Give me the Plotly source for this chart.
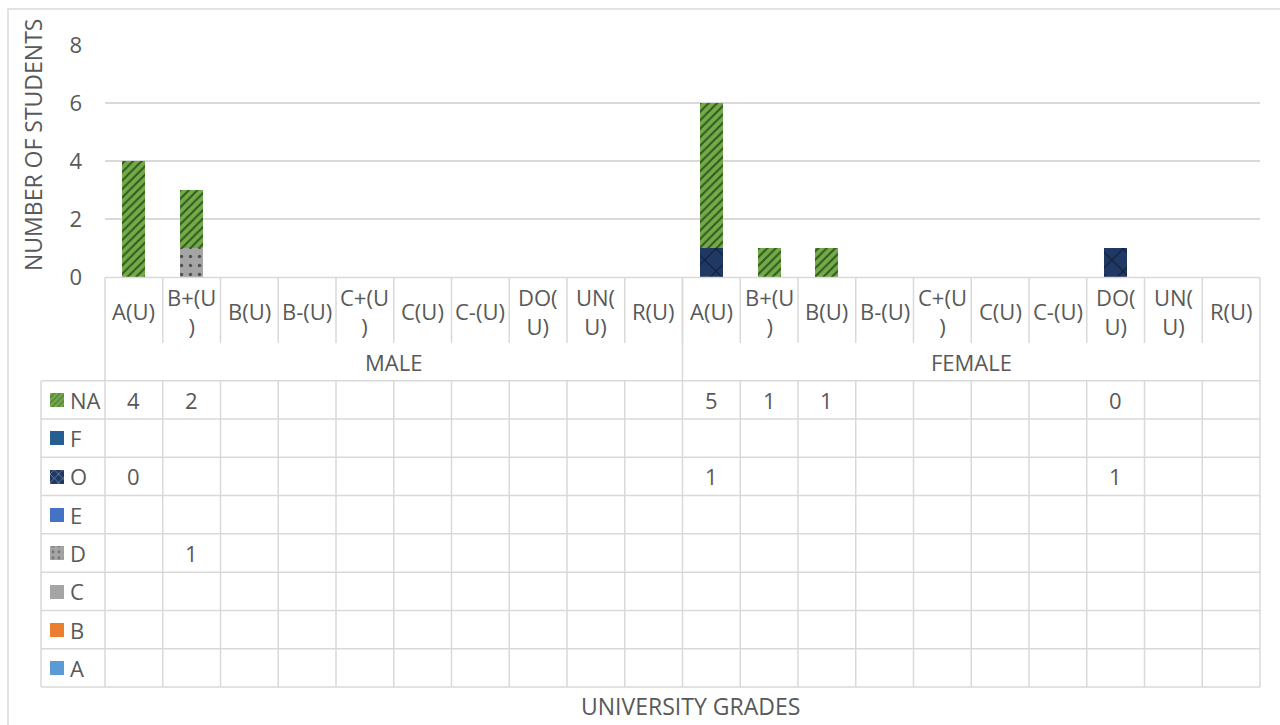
import plotly.graph_objects as go

# ---- data ----
grades = ["A(U)", "B+(U)", "B(U)", "B-(U)", "C+(U)", "C(U)", "C-(U)", "DO(U)", "UN(U)", "R(U)"]
grade_labels = ["A(U)", "B+(U<br>)", "B(U)", "B-(U)", "C+(U<br>)", "C(U)", "C-(U)", "DO(<br>U)", "UN(<br>U)", "R(U)"]
genders = ["MALE", "FEMALE"]

N = None
# one value per grade, MALE first then FEMALE
vals_A = [N, N, N, N, N, N, N, N, N, N,   N, N, N, N, N, N, N, N, N, N]
vals_B = [N, N, N, N, N, N, N, N, N, N,   N, N, N, N, N, N, N, N, N, N]
vals_C = [N, N, N, N, N, N, N, N, N, N,   N, N, N, N, N, N, N, N, N, N]
vals_D = [N, 1, N, N, N, N, N, N, N, N,   N, N, N, N, N, N, N, N, N, N]
vals_E = [N, N, N, N, N, N, N, N, N, N,   N, N, N, N, N, N, N, N, N, N]
vals_O = [0, N, N, N, N, N, N, N, N, N,   1, N, N, N, N, N, N, 1, N, N]
vals_F = [N, N, N, N, N, N, N, N, N, N,   N, N, N, N, N, N, N, N, N, N]
vals_NA = [4, 2, N, N, N, N, N, N, N, N,  5, 1, 1, N, N, N, N, 0, N, N]

y_ticks = [0, 2, 4, 6, 8]

# ---- styling ----
W, H = 1280, 725
FONT = "Open Sans"
TXT = "#595959"
GRID = "#D9D9D9"
FS = 22
FS_TITLE = 23

# series in stacking order (bottom -> top): name, values, colour, pattern
series = [
    ("A", vals_A, "#5B9BD5", dict(shape="")),
    ("B", vals_B, "#ED7D31", dict(shape="")),
    ("C", vals_C, "#A5A5A5", dict(shape="")),
    ("D", vals_D, "#A5A5A5", dict(shape=".", fgcolor="#000000", size=9, solidity=0.12)),
    ("E", vals_E, "#4472C4", dict(shape="")),
    ("O", vals_O, "#203864", dict(shape="x", fgcolor="#000000", size=16, solidity=0.12)),
    ("F", vals_F, "#255E91", dict(shape="")),
    ("NA", vals_NA, "#70AD47", dict(shape="/", fgcolor="#000000", size=6, solidity=0.35)),
]

# pixel geometry of the plot area and the data table
PL, PR, PT, PB = 105, 1260, 45, 277.5
CAT_BOT = 343
TAB_TOP, TAB_BOT = 380.7, 687
TAB_LEFT = 41
n_cat = len(grades) * len(genders)
cw = (PR - PL) / n_cat
row_h = (TAB_BOT - TAB_TOP) / len(series)


def fx(x):
    return x / W


def fy(y):
    return 1 - y / H


fig = go.Figure()

xs = list(range(n_cat))
for name, vals, col, pat in series:
    fig.add_trace(go.Bar(
        x=xs, y=vals, name=name, width=0.4,
        marker=dict(color=col, line=dict(width=0), pattern=dict(bgcolor=col, **pat) if pat["shape"] else None),
        showlegend=False,
    ))

# legend keys inside the table (rows top -> bottom: NA ... A)
rows = list(reversed(series))
fig.add_trace(go.Bar(
    x=[1] * len(rows), y=list(range(len(rows))), orientation="h", width=14 / row_h,
    xaxis="x2", yaxis="y2", showlegend=False,
    marker=dict(
        color=[r[2] for r in rows], line=dict(width=0),
        pattern=dict(
            shape=[r[3]["shape"] for r in rows],
            fgcolor="#000000",
            bgcolor=[r[2] for r in rows],
            size=[4 if r[3]["shape"] == "/" else 6 for r in rows],
            solidity=[0.35 if r[3]["shape"] == "/" else 0.2 for r in rows],
        ),
    ),
))

shapes = []
ann = []


def hline(y, x0, x1):
    shapes.append(dict(type="line", xref="paper", yref="paper", x0=fx(x0), x1=fx(x1), y0=fy(y), y1=fy(y),
                       line=dict(color=GRID, width=1.5)))


def vline(x, y0, y1):
    shapes.append(dict(type="line", xref="paper", yref="paper", x0=fx(x), x1=fx(x), y0=fy(y0), y1=fy(y1),
                       line=dict(color=GRID, width=1.5)))


# outer chart border
shapes.append(dict(type="rect", xref="paper", yref="paper", x0=fx(8), x1=fx(1300), y0=fy(9), y1=fy(760),
                   line=dict(color=GRID, width=1.5), layer="below"))

# category header lines
hline(PB, PL, PR)
for i in range(1, n_cat):
    vline(PL + i * cw, PB, CAT_BOT)
vline(PL, PB, TAB_BOT)
vline(PL + len(grades) * cw, PB, TAB_TOP)
vline(PR, PB, TAB_BOT)

# table grid
for r in range(len(rows) + 1):
    hline(TAB_TOP + r * row_h, TAB_LEFT, PR)
vline(TAB_LEFT, TAB_TOP, TAB_BOT)
for i in range(1, n_cat):
    vline(PL + i * cw, TAB_TOP, TAB_BOT)

txt = dict(family=FONT, size=FS, color=TXT)
txt_title = dict(family=FONT, size=FS_TITLE, color=TXT)

# category labels
for g in range(len(genders)):
    for k, lab in enumerate(grade_labels):
        i = g * len(grades) + k
        ann.append(dict(x=i, xref="x", y=fy(311), yref="paper", text=lab, showarrow=False,
                        font=txt, xanchor="center", yanchor="middle"))
    ann.append(dict(x=(g * len(grades) + (len(grades) - 1) / 2), xref="x", y=fy(362), yref="paper",
                    text=genders[g], showarrow=False, font=txt, xanchor="center", yanchor="middle"))

# table rows: series name + values
for r, (name, vals, col, pat) in enumerate(rows):
    yc = TAB_TOP + (r + 0.5) * row_h
    ann.append(dict(x=fx(68), xref="paper", y=fy(yc), yref="paper", text=name, showarrow=False,
                    font=txt, xanchor="left", yanchor="middle"))
    for i, v in enumerate(vals):
        if v is not None:
            ann.append(dict(x=i, xref="x", y=fy(yc), yref="paper", text=str(v), showarrow=False,
                            font=txt, xanchor="center", yanchor="middle"))

# axis titles
ann.append(dict(x=fx(33), xref="paper", y=fy(145), yref="paper", text="NUMBER OF STUDENTS", textangle=-90,
                showarrow=False, font=txt_title, xanchor="center", yanchor="middle"))
ann.append(dict(x=fx(690), xref="paper", y=fy(706), yref="paper", text="UNIVERSITY GRADES",
                showarrow=False, font=txt_title, xanchor="center", yanchor="middle"))

fig.update_layout(
    width=W, height=H, margin=dict(l=0, r=0, t=0, b=0, autoexpand=False),
    paper_bgcolor="white", plot_bgcolor="white",
    barmode="stack", bargap=0,
    font=dict(family=FONT, size=FS, color=TXT),
    xaxis=dict(domain=[fx(PL), fx(PR)], range=[-0.5, n_cat - 0.5], showticklabels=False, automargin=False,
               showgrid=False, zeroline=False, showline=False, ticks=""),
    yaxis=dict(domain=[fy(PB), fy(PT)], range=[0, 8], tickvals=y_ticks, showgrid=True, gridcolor=GRID,
               gridwidth=1.5, zeroline=False, showline=False, ticks="", ticklabelstandoff=22,
               tickfont=txt, automargin=False),
    xaxis2=dict(domain=[fx(50), fx(64)], range=[0, 1], visible=False, anchor="y2", automargin=False),
    yaxis2=dict(domain=[fy(TAB_BOT), fy(TAB_TOP)], range=[len(rows) - 0.5, -0.5], visible=False,
                anchor="x2", automargin=False),
    shapes=shapes, annotations=ann,
)

fig.write_html("out.html")
